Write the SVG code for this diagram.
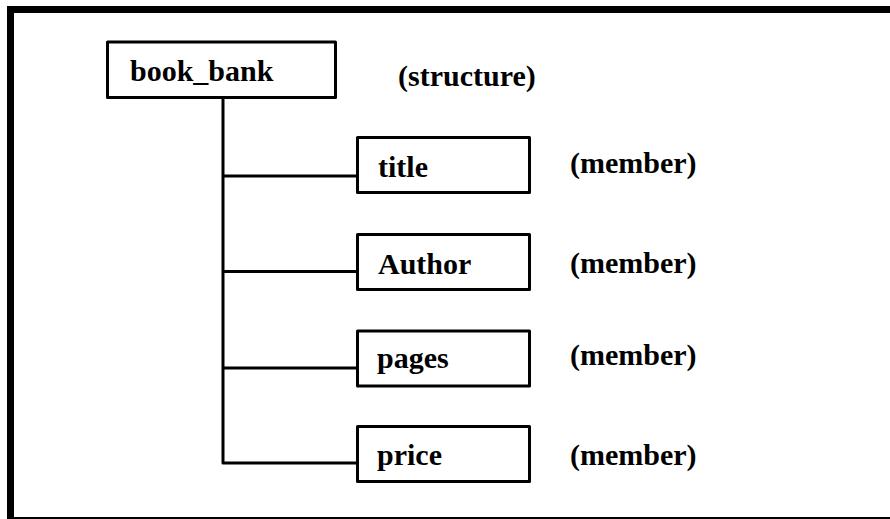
<svg xmlns="http://www.w3.org/2000/svg" width="890" height="519" viewBox="0 0 890 519">
<style>
.box{fill:#fff;stroke:#000;stroke-width:3;stroke-linejoin:round}
.lbl{font-family:"Liberation Serif","Times New Roman",serif;font-weight:bold;font-size:30px;fill:#000}
.conn{fill:none;stroke:#000;stroke-width:3;stroke-linejoin:round}
</style>
<rect x="0" y="0" width="890" height="519" fill="#fff"/>
<rect x="10.5" y="9.5" width="900" height="511" fill="none" stroke="#000" stroke-width="7"/>
<g id="connectors">
<path class="conn" d="M223 97.5 V463 H357.5"/>
<path class="conn" d="M223 176 H357.5"/>
<path class="conn" d="M223 271.5 H357.5"/>
<path class="conn" d="M223 368 H357.5"/>
</g>
<g id="book_bank">
<rect class="box" x="107.5" y="42" width="228" height="55.5"/>
<text class="lbl" x="130" y="81">book_bank</text>
</g>
<g id="structure_label">
<text class="lbl" x="398" y="86">(structure)</text>
</g>
<g id="title">
<rect class="box" x="357.5" y="137.5" width="172" height="55"/>
<text class="lbl" x="378" y="177">title</text>
<text class="lbl" x="570" y="173">(member)</text>
</g>
<g id="author">
<rect class="box" x="357.5" y="234.5" width="172" height="55"/>
<text class="lbl" x="378" y="274">Author</text>
<text class="lbl" x="570" y="273">(member)</text>
</g>
<g id="pages">
<rect class="box" x="357.5" y="331" width="172" height="55"/>
<text class="lbl" x="377" y="368">pages</text>
<text class="lbl" x="570" y="365">(member)</text>
</g>
<g id="price">
<rect class="box" x="357.5" y="426.5" width="172" height="55"/>
<text class="lbl" x="377" y="465">price</text>
<text class="lbl" x="570" y="465">(member)</text>
</g>
</svg>
